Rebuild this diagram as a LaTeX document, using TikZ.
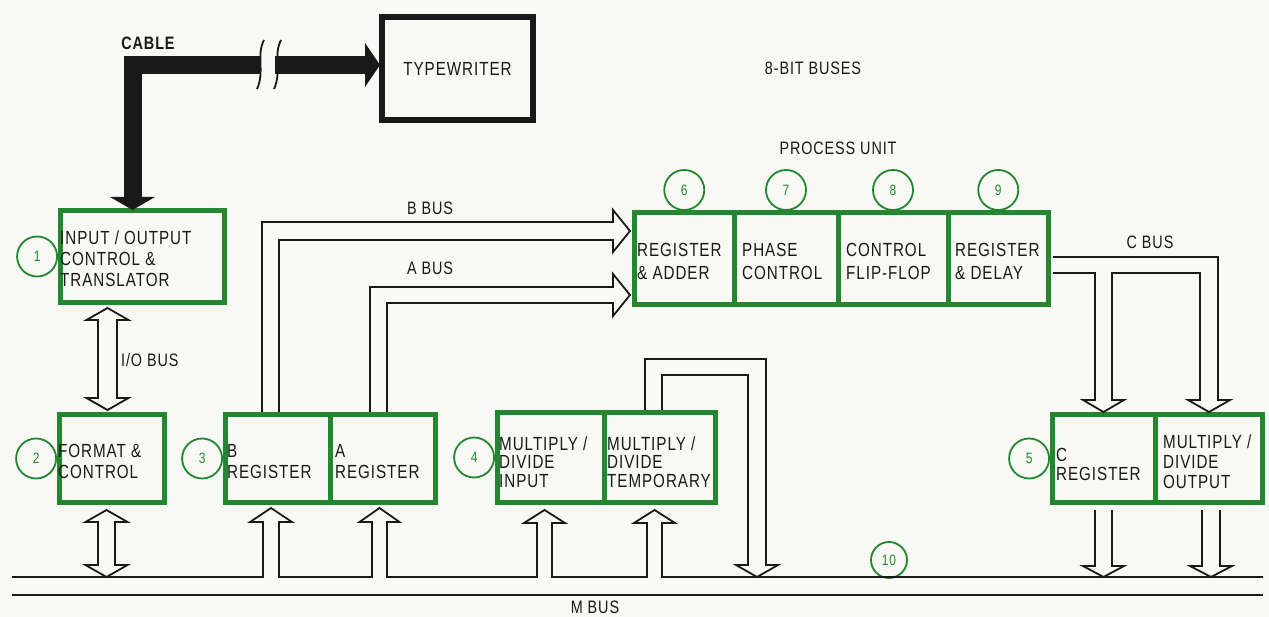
\documentclass[tikz,border=0pt]{standalone}
\usepackage{fontspec}
\setmainfont{Liberation Sans}[FakeStretch=0.8,LetterSpace=5]
\definecolor{grn}{RGB}{36,134,46}
\definecolor{ink}{RGB}{25,25,25}
\definecolor{paper}{RGB}{248,248,245}
\begin{document}
\begin{tikzpicture}[x=1pt,y=-1pt,
  gbox/.style={draw=grn, line width=5, inner sep=0, rectangle},
  bus/.style={draw=ink, line width=1.8, line join=miter},
  num/.style={circle, draw=grn, line width=1.8, minimum size=40, inner sep=0, text=grn, font=\fontsize{15}{15}\selectfont},
  btxt/.style={inner sep=0, anchor=west, align=left, text=ink, font=\fontsize{19}{21}\selectfont},
  lbl/.style={inner sep=0, text=ink, font=\fontsize{18}{20}\selectfont}]
\fill[paper] (0,0) rectangle (1269,617);
\useasboundingbox (0,0) rectangle (1269,617);

% boxes
\node[gbox, minimum width=164, minimum height=92] (io) at (142.5,256.5) {};
\node[gbox, minimum width=105, minimum height=88] (fmt) at (112,458.5) {};
\node[gbox, minimum width=104.5, minimum height=88] (breg) at (277.75,458.5) {};
\node[gbox, minimum width=105.5, minimum height=88] (areg) at (382.75,458.5) {};
\node[gbox, minimum width=106.5, minimum height=90] (mdin) at (550.75,457.5) {};
\node[gbox, minimum width=111.5, minimum height=90] (mdtmp) at (659.75,457.5) {};
\node[gbox, minimum width=99.5, minimum height=92.5] (pua) at (684.25,258.75) {};
\node[gbox, minimum width=104, minimum height=92.5] (pub) at (786,258.75) {};
\node[gbox, minimum width=110, minimum height=92.5] (puc) at (893,258.75) {};
\node[gbox, minimum width=100.5, minimum height=92.5] (pud) at (998.25,258.75) {};
\node[gbox, minimum width=102.5, minimum height=88] (creg) at (1103.75,458.5) {};
\node[gbox, minimum width=107.5, minimum height=88] (mdout) at (1208.75,458.5) {};
\node[draw=ink, line width=6, minimum width=151, minimum height=103, inner sep=0] (tw) at (457.5,68.5) {};

% box texts
\node[btxt] (tio) at (60,258.5) {INPUT / OUTPUT\\CONTROL \&\\TRANSLATOR};
\node[btxt] (tfmt) at (58,461) {FORMAT \&\\CONTROL};
\node[btxt] (tbreg) at (227,462) {B\\REGISTER};
\node[btxt] (tareg) at (335,462) {A\\REGISTER};
\node[btxt, font=\fontsize{19}{18.5}\selectfont] (tmdin) at (499,462) {MULTIPLY /\\DIVIDE\\INPUT};
\node[btxt, font=\fontsize{19}{18.5}\selectfont] (tmdtmp) at (607,462) {MULTIPLY /\\DIVIDE\\TEMPORARY};
\node[btxt, font=\fontsize{19}{19}\selectfont] (tcreg) at (1056,464) {C\\REGISTER};
\node[btxt, font=\fontsize{19}{20}\selectfont] (tmdout) at (1163,462) {MULTIPLY /\\DIVIDE\\OUTPUT};
\node[btxt, font=\fontsize{19}{23}\selectfont] (tpua) at (637,261) {REGISTER\\\& ADDER};
\node[btxt, font=\fontsize{19}{23}\selectfont] (tpub) at (742,261) {PHASE\\CONTROL};
\node[btxt, font=\fontsize{19}{23}\selectfont] (tpuc) at (846,261) {CONTROL\\FLIP-FLOP};
\node[btxt, font=\fontsize{19}{23}\selectfont] (tpud) at (955,261) {REGISTER\\\& DELAY};
\node[lbl, font=\fontsize{19}{20}\selectfont] (ttw) at (tw) {TYPEWRITER};

% numbered circles
\node[num, anchor=east] (c1) at (io.west) {1};
\node[num, anchor=east] (c2) at (fmt.west) {2};
\node[num, anchor=east] (c3) at (breg.west) {3};
\node[num, anchor=east] (c4) at (mdin.west) {4};
\node[num, anchor=east] (c5) at (creg.west) {5};
\node[num] (c6) at (684.25,190) {6};
\node[num] (c7) at (786,190) {7};
\node[num] (c8) at (893,190) {8};
\node[num] (c9) at (998.25,190) {9};
\node[num, minimum size=36] (c10) at (889,560) {10};

% labels
\node[lbl, font=\fontsize{18}{20}\bfseries] (lcable) at (148,43) {CABLE};
\node[lbl] (l8bit) at (813,68) {8-BIT BUSES};
\node[lbl] (lpu) at (838,148) {PROCESS UNIT};
\node[lbl] (lbbus) at (430,208) {B BUS};
\node[lbl] (labus) at (430,268) {A BUS};
\node[lbl] (lcbus) at (1150,242) {C BUS};
\node[lbl, anchor=west] (liobus) at (121,360) {I/O BUS};
\node[lbl] (lmbus) at (595,607) {M BUS};

% cable
\draw[ink, line width=18] (132.5,197) -- (132.5,65) -- (260,65);
\draw[ink, line width=18] (275,65) -- (365,65);
\fill[ink] (110,197) -- (155,197) -- (132.5,210) -- cycle;
\fill[ink] (365,43) -- (380,65) -- (365,87) -- cycle;
\draw[ink, line width=1.8] (264,40) .. controls (256,55) and (265,72) .. (257,89);
\draw[ink, line width=1.8] (281,40) .. controls (273,55) and (282,72) .. (274,89);

% I/O bus
\draw[bus] (107.5,308) -- (128.5,320) -- (117,320) -- (117,398) -- (128.5,398) -- (107.5,410) -- (86.5,398) -- (98,398) -- (98,320) -- (86.5,320) -- cycle;
% format <-> M bus
\draw[bus] (106.5,510) -- (127.5,522) -- (115,522) -- (115,565) -- (127.5,565) -- (106.5,577) -- (85.5,565) -- (98,565) -- (98,522) -- (85.5,522) -- cycle;

% B bus and A bus
\draw[bus] (262,412) -- (262,222) -- (613,222) -- (613,210) -- (630,231) -- (613,252) -- (613,240) -- (279,240) -- (279,412);
\draw[bus] (370,412) -- (370,287) -- (613,287) -- (613,274) -- (630,295) -- (613,316) -- (613,303) -- (387,303) -- (387,412);

% MD loop to M bus
\draw[bus] (645,410) -- (645,359) -- (766,359) -- (766,565) -- (778,565) -- (757,577) -- (736,565) -- (748,565) -- (748,375) -- (662,375) -- (662,410);

% C bus
\draw[bus] (1053,257) -- (1218,257) -- (1218,400) -- (1230,400) -- (1209,412) -- (1188,400) -- (1200,400) -- (1200,273) -- (1112,273) -- (1112,400) -- (1124,400) -- (1103.5,412) -- (1083,400) -- (1095,400) -- (1095,273) -- (1053,273);

% M bus upper line with up arrows
\draw[bus] (12,577) -- (263,577) -- (263,522) -- (250,522) -- (271,508) -- (292,522) -- (279,522) -- (279,577)
  -- (372,577) -- (372,522) -- (359.5,522) -- (379.5,508) -- (399.5,522) -- (387,522) -- (387,577)
  -- (537,577) -- (537,523) -- (524,523) -- (544.5,510) -- (565,523) -- (552,523) -- (552,577)
  -- (647,577) -- (647,523) -- (634,523) -- (654.5,510) -- (675,523) -- (662,523) -- (662,577)
  -- (1263,577);
\draw[ink, line width=2.4] (12,595) -- (1263,595);

% C reg and MD output down to M bus
\draw[bus] (1095,510) -- (1095,566) -- (1083,566) -- (1103.5,577) -- (1124,566) -- (1112,566) -- (1112,510);
\draw[bus] (1202,510) -- (1202,566) -- (1190,566) -- (1211,577) -- (1232,566) -- (1220,566) -- (1220,510);
\end{tikzpicture}
\end{document}
